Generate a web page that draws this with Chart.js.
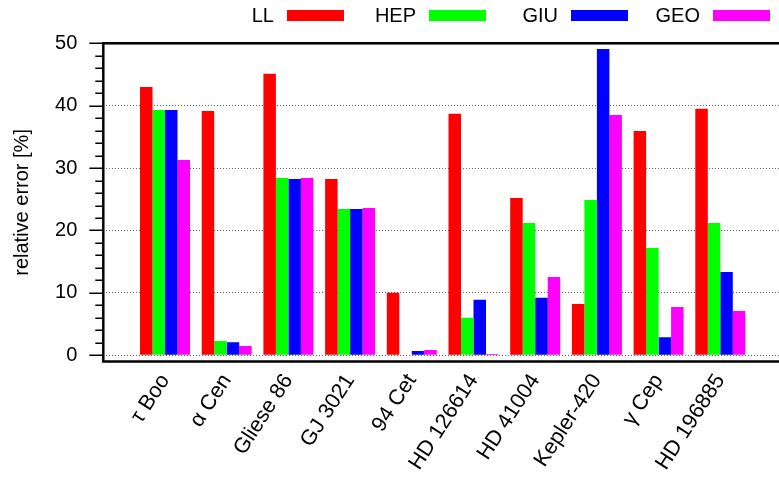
<!DOCTYPE html>
<html>
<head>
<meta charset="utf-8">
<script src="https://cdn.jsdelivr.net/npm/chart.js@4.4.1/dist/chart.umd.min.js"></script>
<style>
  html, body { margin: 0; padding: 0; overflow: hidden; background: #fff; }
  #wrap { position: relative; width: 779px; height: 479px; overflow: hidden; }
  #legend {
    position: absolute; top: 5px; left: 202px; display: flex;
    font-family: 'Liberation Sans', Arial, sans-serif; font-size: 20px; color: #000;
  }
</style>
</head>
<body>
<div id="wrap">
  <canvas id="chart" width="790" height="479"></canvas>
  <div id="legend"></div>
</div>
<script>
// данные
const stars = ['τ Boo', 'α Cen', 'Gliese 86', 'GJ 3021', '94 Cet', 'HD 126614', 'HD 41004', 'Kepler-420', 'γ Cep', 'HD 196885'];
const seriesNames = ['LL', 'HEP', 'GIU', 'GEO'];
const llValues  = [43.0, 39.15, 45.1, 28.25, 10.0, 38.7, 25.2, 8.2, 35.95, 39.5];
const hepValues = [39.3, 2.3, 28.4, 23.45, 0.1, 6.0, 21.2, 24.9, 17.2, 21.2];
const giuValues = [39.3, 2.1, 28.25, 23.45, 0.7, 8.9, 9.2, 49.1, 2.9, 13.35];
const geoValues = [31.3, 1.5, 28.4, 23.6, 0.85, 0.2, 12.55, 38.5, 7.75, 7.1];
const yTicks = [0, 10, 20, 30, 40, 50];
const yMinorStep = 2;
const colors = ['#ff0000', '#00ff00', '#0000ff', '#ff00ff'];

const FONT = "'Liberation Sans', Arial, sans-serif";

function createCustomLegend(legendId, names, colors) {
  const legendContainer = document.getElementById(legendId);
  if (!legendContainer) return;
  legendContainer.innerHTML = '';

  names.forEach((name, index) => {
    const legendItem = document.createElement('div');
    legendItem.style.display = 'flex';
    legendItem.style.alignItems = 'center';
    legendItem.style.width = '142px';
    legendItem.style.height = '20px';

    // текст справа выровнен, как в gnuplot
    const legendText = document.createElement('span');
    legendText.textContent = name;
    legendText.style.display = 'inline-block';
    legendText.style.width = '72px';
    legendText.style.textAlign = 'right';
    legendText.style.lineHeight = '20px';
    legendText.style.marginRight = '13px';

    const colorBox = document.createElement('span');
    colorBox.style.display = 'inline-block';
    colorBox.style.width = '57px';
    colorBox.style.height = '11px';
    colorBox.style.backgroundColor = colors[index];

    legendItem.appendChild(legendText);
    legendItem.appendChild(colorBox);
    legendContainer.appendChild(legendItem);
  });
}

// рамка и мелкие деления оси Y
const framePlugin = {
  id: 'frame',
  afterDraw(chart) {
    const { ctx, chartArea: { left, top, right, bottom }, scales: { y } } = chart;
    ctx.save();
    ctx.strokeStyle = '#000';
    ctx.lineWidth = 1.5;
    for (let v = yTicks[0]; v <= yTicks[yTicks.length - 1]; v += yMinorStep) {
      const py = Math.round(y.getPixelForValue(v)) + 0.25;
      const len = yTicks.includes(v) ? 14 : 8;
      ctx.beginPath();
      ctx.moveTo(left - len, py);
      ctx.lineTo(left, py);
      ctx.stroke();
    }
    ctx.lineWidth = 2.5;
    ctx.strokeRect(left, top, right - left, bottom - top);
    ctx.restore();
  },
};

createCustomLegend('legend', seriesNames, colors);

const allValues = [llValues, hepValues, giuValues, geoValues];
const datasets = seriesNames.map((name, i) => ({
  label: name,
  data: allValues[i].map((v, k) => ({ x: k, y: v })),
  backgroundColor: colors[i],
  borderWidth: 0,
  categoryPercentage: 0.81,
  barPercentage: 1.0,
}));

new Chart(document.getElementById('chart').getContext('2d'), {
  type: 'bar',
  data: { datasets },
  plugins: [framePlugin],
  options: {
    responsive: false,
    animation: false,
    layout: { padding: { top: 43.3, left: 0, right: 8, bottom: 0 } },
    plugins: {
      legend: { display: false },
      tooltip: { enabled: false },
    },
    scales: {
      x: {
        type: 'linear',
        min: -1,
        max: 10,
        offset: false,
        afterBuildTicks: (scale) => { scale.ticks = stars.map((_, i) => ({ value: i })); },
        afterFit: (scale) => { scale.height = 117.5; },
        grid: { display: false, drawTicks: false, offset: false },
        border: { display: false },
        ticks: {
          autoSkip: false,
          minRotation: 57,
          maxRotation: 57,
          padding: 8,
          labelOffset: 0,
          color: '#000',
          font: { family: FONT, size: 21.5 },
          callback: (value) => stars[value] ?? '',
        },
      },
      y: {
        min: -1,
        max: 50,
        afterBuildTicks: (scale) => { scale.ticks = yTicks.map((v) => ({ value: v })); },
        afterFit: (scale) => { scale.width = 103.3; },
        grid: { color: '#666', lineWidth: 1, drawTicks: false },
        border: { display: false, dash: [1, 2] },
        ticks: {
          padding: 26,
          color: '#000',
          font: { family: FONT, size: 20 },
        },
        title: {
          display: true,
          text: 'relative error [%]',
          color: '#000',
          font: { family: FONT, size: 20 },
          padding: { top: 10, bottom: 0 },
        },
      },
    },
  },
});
</script>
</body>
</html>
